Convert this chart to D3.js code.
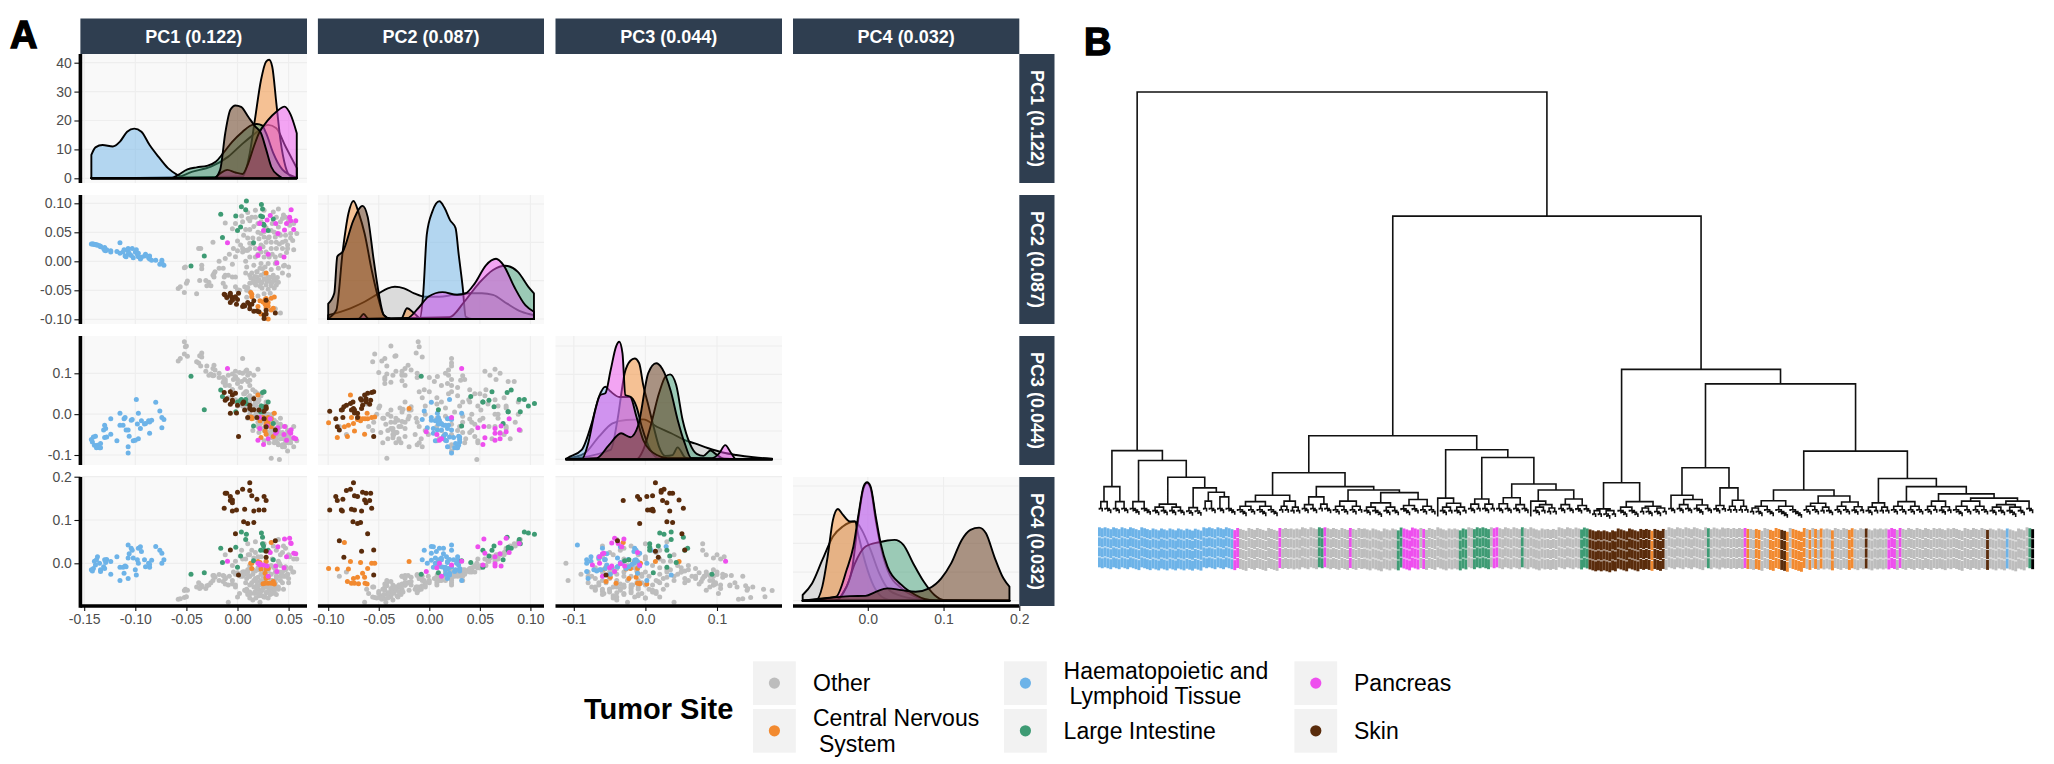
<!DOCTYPE html>
<html><head><meta charset="utf-8">
<script src="https://cdn.jsdelivr.net/npm/d3@7"></script>
<style>html,body{margin:0;background:#fff}svg{display:block}text{font-family:"Liberation Sans",Arial,sans-serif}</style>
</head><body><svg id="c" width="2054" height="764"></svg>
<script>
const pcLabels=["PC1 (0.122)","PC2 (0.087)","PC3 (0.044)","PC4 (0.032)"];
const sites=["Other","Central Nervous\n System","Haematopoietic and\n Lymphoid Tissue","Large Intestine","Pancreas","Skin"];
const siteColors=["#bdbdbd","#f28a30","#6db3e8","#3e9b74","#ee4fee","#5a2c0c"];
const ticksPC1=[-.15,-.1,-.05,0,.05],ticksPC2=[-.1,-.05,0,.05,.1],ticksPC3=[-.1,0,.1],ticksPC4=[0,.1,.2];
const ticksDensity=[0,10,20,30,40];

// samples: [PC1, PC2, PC3, PC4]
const other=[
[-.058,-.047,.130,-.083],[-.056,-.044,.136,-.082],[-.052,-.054,.147,-.079],[-.050,-.038,.167,-.077],[-.049,-.034,.142,-.062],[-.040,-.056,.128,-.055],[-.052,-.011,.177,-.063],[-.051,-.010,.165,-.06],[-.038,.022,.125,-.045],[-.036,.022,.118,-.05],[-.035,-.007,.140,-.052],[-.035,-.013,.150,-.055],[-.037,-.033,.143,-.058],[-.031,-.033,.105,-.058],[-.030,-.042,.118,-.052],[-.026,-.042,.098,-.045],[-.028,-.036,.095,-.05],[-.024,-.024,.112,-.028],[-.023,-.021,.120,-.028],[-.022,-.018,.108,-.032],[-.023,-.027,.095,-.03],[-.018,-.012,.100,-.026],[-.014,-.012,.090,-.028],[-.024,.033,.094,-.04],[-.012,.066,.085,.02],[-.013,-.027,.082,-.03],[-.012,-.024,.070,-.035],[-.009,-.024,.095,-.05],[-.005,-.027,.098,-.048],[-.002,-.027,.105,-.05],[-.014,-.038,.078,-.042],[-.012,-.044,.075,-.048],[-.002,-.044,.09,-.055],[.002,-.050,.102,-.07],[.007,-.044,.085,-.062],[-.004,.022,.085,-.02],[-.002,.008,.092,-.025],[.005,.016,.1,-.02],[.009,.019,.108,-.025],[.01,.019,.095,-.015],
[.012,-.024,.03,-.05],[.016,-.033,-.01,-.055],[.019,-.027,.005,-.06],[.023,-.024,-.02,-.05],[.026,-.021,-.012,-.045],[.028,-.030,-.03,-.055],[.030,-.027,-.018,-.05],[.035,-.024,-.035,-.048],[.037,-.033,-.045,-.055],[.040,-.036,-.05,-.06],[.012,-.038,.01,-.066],[.017,-.038,-.005,-.07],[.023,-.038,-.02,-.064],[.028,-.041,-.04,-.068],[.033,-.038,-.035,-.058],[.038,-.041,-.06,-.072],[.05,-.024,-.055,-.045],[.009,-.050,.015,-.065],[0,-.049,.02,-.078],[-.009,-.064,.04,-.09],[.009,-.062,.025,-.06],[.026,-.056,-.04,-.078],[.042,-.089,-.03,-.03],[.037,-.082,-.05,-.02],[.046,-.007,-.08,-.03],[.038,-.001,-.05,-.03],[.033,-.042,-.108,-.04],[.041,.047,-.111,0],
[.020,-.034,-.02,-.058],[.024,-.036,-.035,-.062],[.029,-.035,-.05,-.066],[.034,-.036,-.058,-.07],[.021,-.032,-.045,-.075],[.031,-.033,-.07,-.062],[.015,-.036,-.04,-.085],[.026,-.030,-.065,-.05],[.018,-.041,0,-.08],[.013,-.029,.015,-.07],[.022,-.043,-.025,-.09],[.027,-.031,-.015,-.078],[.032,-.028,-.03,-.072],[.036,-.030,-.06,-.065],[.039,-.028,-.07,-.055],[.010,-.045,-.01,-.072],[.008,-.02,.01,-.062],[.014,-.02,-.005,-.045],[.019,-.018,.018,-.042],
[.0175,.088,.03,.05],[-.002,.065,.035,.005],[.005,.068,.02,.01],[.0105,.074,.04,.02],[.014,.076,.02,.03],[.0175,.076,.015,.025],[.023,.068,0,.015],[.026,.088,0,.045],[.035,.085,-.02,.04],[.038,.076,-.035,.03],[.044,.074,-.05,.025],[.047,.076,-.03,.035],[.051,.062,-.06,.015],[.04,.059,-.03,.005],[.033,.053,-.01,-.005],[.026,.051,.01,-.005],[.023,.048,.02,-.01],[.021,.039,.035,-.015],[.026,.042,0,-.02],[.031,.042,-.02,-.01],[.037,.042,-.04,-.012],[.042,.045,-.025,-.005],[.047,.045,-.055,-.008],[.052,.048,-.07,-.01],[.058,.048,-.065,.01],[.054,.036,-.06,-.02],[.049,.028,-.04,-.025],[.044,.033,-.045,-.02],[.038,.033,-.02,-.03],[.033,.033,-.005,-.025],[.028,.033,.03,-.015],[.023,.028,.045,-.025],[.0175,.022,.055,-.018],[.012,.022,.07,-.012],[.007,.019,.05,-.02],[.012,.0075,.04,-.03],[.0175,.0075,.025,-.035],[.023,.016,.015,-.04],[.028,.016,-.005,-.03],[.033,.022,-.025,-.04],[.038,.022,-.05,-.035],[.044,.022,-.075,-.03],[.049,.022,-.09,-.025],[.037,.0075,-.065,-.045],[.031,.0075,-.03,-.05],[.026,.0075,-.01,-.04],[.009,-.01,.055,-.035],[.016,-.007,.04,-.04],[.023,-.004,.02,-.045],[.03,-.004,0,-.05],[.037,-.004,-.04,-.055],[.045,-.008,-.06,-.06],[.019,-.018,.01,-.05],[.0245,-.013,-.01,-.06],[-.005,.056,.06,-.005],
[.005,.022,.136,-.03],[.012,.031,.083,-.03],[.012,.07,.1,.02],[.016,.06,.095,.012],[.008,.055,.105,.01],[.02,.065,.11,.015],[.004,.078,.08,.03],[.01,.084,.08,.045],[-.018,0,.09,-.04],[-.012,.005,.08,-.035],[-.008,.012,.07,-.03],[0,.018,.075,-.022],[-.005,-.005,.06,-.04],[.003,.028,.065,-.03],[.008,0,.055,-.045],[.015,.04,.06,-.015],[.02,.05,.05,-.01],[0,.035,.085,-.025],[.006,.045,.05,-.02],[.012,.055,.045,-.005],
[.042,.068,-.01,.02],[.05,.07,-.045,.02],[.055,.065,-.03,.01],[.045,.08,-.06,.04],[.04,.09,-.04,.055],[.034,.065,0,.01],[.028,.058,.025,.005],[.036,.05,-.015,-.01],[.041,.03,-.03,-.02],[.047,.035,-.07,-.015],[.052,.04,-.045,-.012],[.03,.04,-.012,-.018],[.025,.025,.005,-.03],[.034,.012,-.04,-.04],[.042,.01,-.06,-.04],[.048,.015,-.05,-.03],[.02,.012,.03,-.032],[.015,.03,.02,-.025],[.01,.04,.03,-.02],[.027,-.01,-.03,-.055],[.033,-.014,-.05,-.06],[.04,-.012,-.075,-.055],[.022,-.012,-.02,-.068],[.017,-.026,.012,-.066],[.024,-.046,-.01,-.075],[.03,-.048,-.045,-.08],[.036,-.046,-.07,-.06],[.012,-.052,0,-.08],[.02,-.06,-.03,-.07],[.032,-.055,-.02,-.055],[.044,-.02,-.08,-.045],[.05,-.01,-.07,-.035],[.055,.02,-.08,-.02]];
const cns=[[.03,-.0996,-.021,-.012],[.023,-.091,-.057,-.013],[.033,-.084,-.031,.048],[.035,-.081,-.055,-.042],[.028,-.08,-.027,-.013],[.02,-.078,.047,.004],[.03,-.077,-.008,-.046],[.028,-.075,-.023,-.035],[.027,-.074,-.041,-.046],[.03,-.071,-.013,-.032],[.025,-.07,-.008,-.047],[.022,-.068,-.016,.002],[.027,-.066,-.011,-.023],[.028,-.064,-.049,-.032],[.033,-.0636,-.011,-.046],[.036,-.0615,.002,-.048],[.014,-.061,-.011,-.012],[.014,-.057,-.008,0],[.013,-.054,-.007,0],[.028,-.020,.014,.004]];
const heme=[[-.143,.03,-.062,-.015],[-.141,.03,-.056,-.012],[-.139,.029,-.054,-.004],[-.142,.03,-.068,-.018],[-.14,.029,-.076,.005],[-.137,.028,-.076,.015],[-.138,.028,-.082,.008],[-.135,.027,-.082,0],[-.134,.025,-.082,-.019],[-.134,.026,-.072,-.015],[-.13,.024,-.057,.008],[-.128,.02,-.056,.009],[-.131,.022,-.039,-.008],[-.129,.018,-.035,.002],[-.13,.019,-.027,-.012],[-.124,.018,-.011,.004],[-.124,.016,-.049,-.025],[-.118,.017,-.065,.015],[-.115,.032,.002,-.04],[-.115,.014,-.027,-.009],[-.112,.016,-.027,-.009],[-.111,.02,-.011,-.023],[-.11,.009,-.008,-.006],[-.109,.008,-.039,-.008],[-.107,.018,-.08,-.035],[-.107,.012,-.039,.012],[-.107,.022,-.095,.042],[-.106,.014,-.054,.022],[-.104,.01,-.015,.035],[-.103,.022,-.013,.03],[-.102,.006,-.065,.012],[-.1,.016,-.064,-.015],[-.099,.02,.036,-.027],[-.097,.008,.002,0],[-.098,.012,-.024,.008],[-.097,.014,-.06,.035],[-.095,.004,-.035,.038],[-.094,.007,-.016,.027],[-.091,.009,-.024,.008],[-.09,.012,-.023,-.008],[-.087,.006,-.016,0],[-.086,.004,-.047,-.009],[-.086,.009,-.019,-.003],[-.084,.002,-.015,.007],[-.08,.002,.029,.039],[-.076,-.005,.008,.03],[-.074,.002,-.008,.023],[-.072,-.007,-.013,.008],[-.074,-.002,-.033,0]];
const intestine=[[-.0455,-.008,.093,-.025],[-.0325,.009,.011,-.022],[-.0147,.041,.043,.002],[-.0164,.081,.059,.035],[-.0017,.078,.006,.037],[.0038,.094,.036,.072],[.0087,.104,.026,.067],[.008,.089,.036,.055],[.0234,.098,.02,.07],[.0245,.09,.006,.045],[.0245,.077,.053,.06],[.0255,.064,.018,.04],[.0157,.032,-.029,.006],[0,.053,.03,-.009],[.003,.059,.034,.017],[.0227,.078,.006,.03],[.035,.073,-.023,.008],[.026,.062,.055,.03],[.03,.053,.03,.03]];
const pancreas=[[-.0098,.032,.112,.005],[.0217,.065,-.035,-.001],[.032,.079,-.011,.025],[.0374,.065,-.047,-.006],[.029,.071,-.029,-.006],[.0255,.053,-.074,-.004],[.0217,.022,-.008,-.004],[.02,.01,-.064,0],[.03,.012,-.06,-.03],[.0385,-.003,-.043,-.019],[.0395,.048,-.033,.038],[.046,.054,-.03,.056],[.048,.065,-.064,.015],[.055,.055,-.058,.023],[.057,.07,-.06,.022],[.052,.07,-.047,.047],[.051,.076,-.043,.058],[.0525,.089,-.038,.046],[.0455,.0075,-.05,-.01]];
const skin=[[.012,-.075,.014,.186],[.012,-.082,.022,.168],[.005,-.078,.026,.171],[.014,-.074,.01,.156],[0,-.066,.022,.164],[-.012,-.058,.034,.162],[-.0105,-.0625,.038,.162],[.026,-.0925,-.011,.154],[.028,-.091,-.031,.145],[.019,-.0855,-.008,.148],[-.007,-.071,.002,.154],[-.005,-.064,.047,.146],[-.005,-.0625,.03,.14],[-.013,-.057,.053,.127],[.026,-.0985,.007,.123],[.021,-.087,.01,.123],[.016,-.086,.011,.121],[.007,-.077,.01,.125],[-.001,-.074,.003,.123],[-.005,-.067,.034,.121],[-.007,-.059,.024,.145],[.006,-.0755,.03,.096],[.01,-.071,-.008,.092],[.016,-.068,.038,.094],[-.002,-.061,.051,.068],[.037,-.089,-.039,.052],[.028,-.067,.014,.028],[-.007,-.055,.055,.031],[.028,-.0845,.018,.014],[.001,-.055,-.055,-.027]];

// densities: [value, density]
const densPC1Other=[[-.062,.2],[-.044,2.3],[-.026,4],[-.009,7.5],[.005,12],[.019,16],[.030,18.5],[.038,17.3],[.047,11],[.058,3.5]];
const densPC1Cns=[[.005,.6],[.012,8.7],[.017,20.2],[.023,34],[.028,40.4],[.031,41],[.034,38.6],[.038,26],[.042,13.3],[.047,4],[.052,.6]];
const densPC1Heme=[[-.143,8.1],[-.139,10.7],[-.132,11.5],[-.122,11],[-.115,12.7],[-.108,16.1],[-.101,17.2],[-.094,16.1],[-.086,11.5],[-.077,7.3],[-.068,3.5],[-.059,1.2],[-.051,0]];
const densPC1Intestine=[[-.065,0],[-.058,1.2],[-.049,3.1],[-.04,3.8],[-.03,4.3],[-.021,5.8],[-.014,8.7],[-.005,12.7],[.005,16.1],[.012,18.1],[.019,18.8],[.024,18.3],[.028,15.6],[.035,8.7],[.044,3],[.051,1.2],[.058,.2]];
const densPC1Pancreas=[[-.023,0],[-.017,1.7],[-.01,2.9],[-.002,2],[.005,1.5],[.0105,5.2],[.016,11],[.021,15.6],[.03,20.2],[.038,23],[.046,24.8],[.052,22],[.058,15.6]];
const densPC1Skin=[[-.023,0],[-.017,2.9],[-.012,15.6],[-.007,23.7],[-.002,25.2],[.0035,24.7],[.0105,21.3],[.0175,17.9],[.023,15.6],[.028,10],[.033,4],[.04,1],[.0455,0]];

const densPC2Other=[[-.1,1],[-.078,2.8],[-.064,4.5],[-.05,6.7],[-.041,8],[-.034,8.4],[-.025,8],[-.015,6.7],[-.004,5.8],[.01,5.8],[.024,6.3],[.042,6.7],[.052,6.7],[.063,6.3],[.077,4],[.091,1.9],[.1035,1]];
const densPC2Cns=[[-.1,.2],[-.092,2.3],[-.0855,18],[-.08,27.5],[-.075,30.8],[-.0696,27.5],[-.064,22.3],[-.057,12.8],[-.05,5],[-.045,1],[-.038,0],[-.028,0],[-.022,2.8],[-.015,1.5],[-.008,0]];
const densPC2Heme=[[-.0095,0],[-.006,6.7],[-.0025,22],[.003,28],[.01,30.7],[.015,29],[.0205,25.8],[.026,23.7],[.029,17],[.033,8.4],[.036,.6],[.042,0]];
const densPC2Intestine=[[.02,.5],[.0346,4.5],[.049,9.3],[.063,12.8],[.075,13.9],[.0876,12.3],[.098,8.4],[.1035,6.7]];
const densPC2Pancreas=[[-.07,0],[-.065,1.3],[-.06,0],[-.022,.2],[-.011,2.8],[-.001,5.8],[.013,7],[.0275,6.3],[.036,6.7],[.045,9.3],[.056,14],[.066,15.7],[.0735,14],[.084,8.4],[.095,3.6],[.1035,1.9]];
const densPC2Skin=[[-.1,4],[-.094,6.7],[-.091,16.3],[-.0855,17.6],[-.075,25.8],[-.066,29.5],[-.061,26.7],[-.055,15.4],[-.05,6.7],[-.045,1],[-.038,0]];

const densPC3Other=[[-.111,.2],[-.085,2.1],[-.065,8],[-.046,12.7],[-.027,13.9],[-.003,14.1],[.016,11.5],[.036,9.2],[.055,6.8],[.069,5.6],[.088,3.9],[.108,2.4],[.127,1.5],[.151,.7],[.177,.2]];
const densPC3Cns=[[-.0485,3.3],[-.039,13.9],[-.029,30.4],[-.021,34.8],[-.015,35.6],[-.0087,33.9],[-.003,26.2],[.004,19.2],[.0115,11.5],[.019,4.5],[.028,1.2],[.038,1.5],[.045,4.2],[.055,.7],[.062,0]];
const densPC3Heme=[[-.109,.4],[-.089,3.3],[-.075,12.7],[-.065,22],[-.056,25.6],[-.0485,23.9],[-.0365,22],[-.021,22],[-.0125,18.6],[-.005,11.5],[.007,3.3],[.019,.4]];
const densPC3Intestine=[[-.0125,0],[-.003,3.3],[.007,11.5],[.019,23.3],[.028,29.2],[.0346,30],[.043,26.2],[.052,13.9],[.062,5.6],[.0716,1.9],[.081,1.2],[.091,3.1],[.098,1.9],[.11,.2]];
const densPC3Pancreas=[[-.089,0],[-.08,5.6],[-.07,17.4],[-.063,22.7],[-.056,23.3],[-.0485,31.5],[-.041,39.8],[-.0365,41.5],[-.032,37.4],[-.028,22.7],[-.021,22.1],[-.0125,15],[-.003,6.8],[.016,1.5],[.031,.4],[.093,.4],[.103,2.1],[.1115,5],[.12,2.1],[.127,0]];
const densPC3Skin=[[-.068,.4],[-.051,5],[-.034,9.2],[-.021,7.8],[-.01,12],[.004,30.4],[.015,33.9],[.0235,32],[.0355,24],[.045,14],[.055,5.6],[.064,.4]];

const densPC4Other=[[-.086,2],[-.0736,6],[-.06,14.2],[-.046,22.4],[-.033,25.9],[-.017,27.6],[-.008,24.7],[.0036,17.7],[.015,9.6],[.026,4.3],[.04,2],[.067,.5],[.107,.1]];
const densPC4Cns=[[-.069,0],[-.06,5],[-.053,15.4],[-.046,28.2],[-.0395,32],[-.033,30],[-.0236,27.6],[-.017,27.6],[-.012,22.4],[-.003,13],[.008,5],[.022,.8],[.035,0]];
const densPC4Heme=[[-.044,0],[-.033,2.6],[-.021,10.7],[-.012,29.4],[-.0055,39.3],[-.001,41],[.0036,39.3],[.0105,28],[.017,18.9],[.026,10.7],[.0445,4.3],[.063,1.4],[.081,0]];
const densPC4Intestine=[[-.042,0],[-.028,4.9],[-.017,13],[-.003,18.9],[.015,20.4],[.026,21],[.0355,21.2],[.047,19.5],[.06,13],[.074,6.6],[.088,2],[.101,.2]];
const densPC4Pancreas=[[-.042,1.4],[-.028,10.7],[-.019,18.9],[-.012,30.5],[-.0055,39.9],[-.001,41.3],[.0036,39.9],[.0105,29.4],[.017,20],[.026,11.9],[.0445,5.5],[.063,2],[.076,.5],[.09,0]];
const densPC4Skin=[[-.042,1.2],[-.0236,1.6],[-.003,1.7],[.0105,3.1],[.026,4.3],[.0445,3.7],[.063,3.1],[.081,4.3],[.097,7.8],[.11,13],[.124,21.2],[.1355,24.7],[.147,25.5],[.156,23.5],[.167,15.4],[.179,7.8],[.187,4.9]];

// clustering: [merge height, left, right]; a bare number is a small twig of that many samples (1 = a lone sample)
const treeA=[16.2,[7.8,[4.3,2,3],[4.3,3,3]],[13.9,[4.3,4,4],[10,[3.7,[3,3,3],[3,3,3]],[7.5,[2.9,3,3],[6.5,[4.4,2,3],[5.4,3,4]]]]]];
const treeL1=[11.05,[5.8,[4.3,[3.2,4,3],[3.2,4,4]],[4.4,[3.2,2,2],[3,2,2]]],[7.8,[5.4,[3.6,3,3],[3.7,2,3]],[7,[4.4,[3.2,3,3],[3.2,3,2]],[6.4,[4,[3,3,4],[3,3,3]],[4.8,[3.4,4,3],[3.2,3,3]]]]]];
const treeL2=[16.4,[5.1,1,[3.9,[3,3,2],[3,3,2]]],[14.6,[4.9,[3.7,3,2],[3.7,3,2]],[8.4,[5.2,[3.8,3,3],[3.6,3,3]],[7,[4.4,1,[3.6,[3,3,2],[2.8,2,2]]],[4.9,[3.6,3,3],[3.4,3,3]]]]]];
const treeC=[8.7,[2.6,[2.2,2,2],[2.2,3,2]],[4.3,[3,4,4],[3.2,[2.8,2,3],[2.8,3,2]]]];
const treeR=[12.2,[5.8,3,[4.8,[3.6,3,3],[3.5,4,3]]],[7.5,[3.4,3,2],[4.6,[3.2,2,2],[3.2,2,2]]]];
const treeS=[16.1,[7,[4.5,[3.2,[2.8,2,3],4],[3.2,5,5]],[5.6,[3.9,[3.2,3,3],[3,2,3]],[4.2,[3.2,3,3],[3.1,3,2]]]],[9.7,[4,[3,3,2],[3,2,2]],[7.8,[4.3,[3.2,3,3],[3.2,3,3]],[6.1,[4.4,[3.2,3,2],[3.1,3,2]],[5.1,[4.4,[3.2,4,3],[3.2,3,3]],[4.4,[3.6,[3,3,3],[3,4,3]],3]]]]]];
const treeRoot=[100,treeA,[71,[19.7,treeL1,treeL2],[35.2,treeC,[31.8,treeR,treeS]]]];
// site of each dendrogram leaf, left to right
const leafSiteRuns=[[2,48],[4,2],[0,14],[4,1],[0,13],[3,2],[4,1],[0,8],[4,1],[0,16],[3,2],[4,6],[0,1],[4,1],[0,12],[3,3],[0,2],[3,6],[0,1],[4,2],[0,8],[3,1],[0,20],[3,3],[5,22],[1,1],[5,4],[0,15],[3,1],[0,12],[4,1],[1,1],[0,2],[1,2],[0,3],[1,4],[5,2],[1,1],[0,1],[1,5],[0,1],[1,1],[0,1],[1,1],[0,1],[1,1],[0,3],[1,1],[0,5],[1,2],[0,4],[5,1],[0,7],[4,3],[0,1],[4,1],[0,30],[5,1],[0,6],[2,1],[0,7],[3,1]];

const svg=d3.select("#c");
const font='"Liberation Sans",Arial,sans-serif';
const samples=[other,cns,heme,intestine,pancreas,skin];
const dens=[
 [densPC1Other,densPC1Cns,densPC1Heme,densPC1Intestine,densPC1Pancreas,densPC1Skin],
 [densPC2Other,densPC2Cns,densPC2Heme,densPC2Intestine,densPC2Pancreas,densPC2Skin],
 [densPC3Other,densPC3Cns,densPC3Heme,densPC3Intestine,densPC3Pancreas,densPC3Skin],
 [densPC4Other,densPC4Cns,densPC4Heme,densPC4Intestine,densPC4Pancreas,densPC4Skin]];

const colX=[[80.4,307],[317.9,544],[555.5,782],[793,1019.3]];
const rowY=[[54,183],[195,324],[336,465],[477,606]];
const xS=[
 d3.scaleLinear().domain([0,.05]).range([237.5,288.6]),
 d3.scaleLinear().domain([0,.1]).range([429.3,530.4]),
 d3.scaleLinear().domain([0,.1]).range([645.4,717]),
 d3.scaleLinear().domain([0,.2]).range([867.8,1019.3])];
const yS=[null,
 d3.scaleLinear().domain([-.1,.1]).range([319.3,203.3]),
 d3.scaleLinear().domain([-.1,.1]).range([455,373.3]),
 d3.scaleLinear().domain([0,.2]).range([563.3,476.7])];
const dS=[
 d3.scaleLinear().domain([0,40]).range([178.3,62.7]),
 d3.scaleLinear().domain([0,30]).range([319,204]),
 d3.scaleLinear().domain([0,40]).range([459.3,346]),
 d3.scaleLinear().domain([0,40]).range([600.7,486])];
const xTicks=[ticksPC1,ticksPC2,ticksPC3,ticksPC4];
const xFmt=[".2f",".2f",".1f",".1f"];
const yTicks=[ticksDensity,ticksPC2,ticksPC3,ticksPC4];
const yFmt=["d",".2f",".1f",".1f"];
const fmt=f=>d=>d3.format(f)(d).replace("\u2212","-");
const strip="#2f3e50",grid="#eeeeee",bg="#f9f9f9";

const panels=svg.append("g");
for(let r=0;r<4;r++)for(let c=0;c<=r;c++){
  const g=panels.append("g");
  const [x0,x1]=colX[c],[y0,y1]=rowY[r];
  g.append("rect").attr("x",x0).attr("y",y0).attr("width",x1-x0).attr("height",y1-y0).attr("fill",bg);
  const gy=r===c?dS[r]:yS[r], gyT=r===c?(r===1?[0,10,20,30]:ticksDensity):yTicks[r];
  g.selectAll(".gv").data(xTicks[c].filter(v=>xS[c](v)>=x0&&xS[c](v)<=x1)).join("line")
   .attr("x1",d=>xS[c](d)).attr("x2",d=>xS[c](d)).attr("y1",y0).attr("y2",y1).attr("stroke",grid).attr("stroke-width",1.2);
  g.selectAll(".gh").data(gyT).join("line")
   .attr("y1",d=>gy(d)).attr("y2",d=>gy(d)).attr("x1",x0).attr("x2",x1).attr("stroke",grid).attr("stroke-width",1.2);
  if(r===c){
    const all=dens[c].flat().map(d=>d[0]);
    const ext=d3.extent(all);
    const line=d3.line().x(d=>xS[c](d[0])).y(d=>dS[r](d[1])).curve(d3.curveMonotoneX);
    dens[c].forEach((pts,s)=>{
      const p=pts.slice();
      if(p[0][0]>ext[0])p.unshift([ext[0],0]);
      if(p[p.length-1][0]<ext[1])p.push([ext[1],0]);
      const base=dS[r](0);
      g.append("path").attr("d",line(p)+`L${xS[c](ext[1])},${base}L${xS[c](ext[0])},${base}Z`)
       .attr("fill",siteColors[s]).attr("fill-opacity",.5).attr("stroke","#000").attr("stroke-width",1.9).attr("stroke-linejoin","round");
    });
  } else {
    samples.forEach((rows,s)=>{
      g.selectAll(null).data(rows).join("circle")
       .attr("cx",d=>xS[c](d[c])).attr("cy",d=>yS[r](d[r])).attr("r",2.5).attr("fill",siteColors[s]);
    });
  }
}
// axes
for(let r=0;r<4;r++){
  const s=r===0?dS[0]:yS[r];
  const ax=svg.append("g").attr("transform","translate(80.4,0)")
    .call(d3.axisLeft(s).tickValues(yTicks[r]).tickFormat(fmt(yFmt[r])).tickSize(6).tickPadding(2.5));
  ax.select(".domain").remove();
  ax.selectAll("line").attr("stroke","#111").attr("stroke-width",1.1);
  ax.selectAll("text").attr("font-size",14).attr("fill","#4d4d4d").style("font-family",font);
  svg.append("line").attr("x1",80.4).attr("x2",80.4).attr("y1",rowY[r][0]).attr("y2",rowY[r][1]+(r===3?1.8:0)).attr("stroke","#000").attr("stroke-width",3.6);
}
for(let c=0;c<4;c++){
  const ax=svg.append("g").attr("transform","translate(0,606)")
    .call(d3.axisBottom(xS[c]).tickValues(xTicks[c]).tickFormat(fmt(xFmt[c])).tickSize(5).tickPadding(3));
  ax.select(".domain").remove();
  ax.selectAll("line").attr("stroke","#111").attr("stroke-width",1.1);
  ax.selectAll("text").attr("font-size",14).attr("fill","#4d4d4d").style("font-family",font);
  svg.append("line").attr("x1",colX[c][0]).attr("x2",colX[c][1]).attr("y1",606).attr("y2",606).attr("stroke","#000").attr("stroke-width",3.6);
}
// strips
pcLabels.forEach((t,i)=>{
  svg.append("rect").attr("x",colX[i][0]).attr("y",18.5).attr("width",colX[i][1]-colX[i][0]).attr("height",35.5).attr("fill",strip);
  svg.append("text").attr("x",(colX[i][0]+colX[i][1])/2).attr("y",36.5).attr("dy",".36em").attr("text-anchor","middle")
    .attr("fill","#fff").attr("font-weight","bold").attr("font-size",18).text(t);
  svg.append("rect").attr("x",1019.3).attr("y",rowY[i][0]).attr("width",35.2).attr("height",rowY[i][1]-rowY[i][0]).attr("fill",strip);
  svg.append("text").attr("transform",`translate(1037,${(rowY[i][0]+rowY[i][1])/2}) rotate(90)`).attr("dy",".36em").attr("text-anchor","middle")
    .attr("fill","#fff").attr("font-weight","bold").attr("font-size",18).text(t);
});
// panel letters
[["A",10,48],["B",1084,55]].forEach(d=>svg.append("text").attr("x",d[1]).attr("y",d[2]).attr("font-size",38).attr("font-weight","bold")
  .attr("fill","#000").attr("stroke","#000").attr("stroke-width",1.4).text(d[0]));

// dendrogram
function expand(n,ph){
  if(typeof n==="number"){
    if(n===1)return {h:0.8,long:true};
    const top=Math.min(ph-.8,2.7);
    const twig=(k,h)=>k===1?{h:h-.3}:{h,children:[{h:h-.3},twig(k-1,h-.4)]};
    return twig(n,top);
  }
  return {h:n[0],children:[expand(n[1],n[0]),expand(n[2],n[0])]};
}
const root=d3.hierarchy(expand(treeRoot,100));
const leaves=root.leaves();
const dy=d3.scaleLinear().domain([0,100]).range([520,92]);
const leafX=d3.scaleBand().domain(d3.range(leaves.length)).range([1098,2034]);
leaves.forEach((l,i)=>l.x=leafX(i)+leafX.bandwidth()/2);
root.eachAfter(n=>{if(n.children)n.x=(n.children[0].x+n.children[1].x)/2;});
const pd=root.descendants().filter(n=>n.children).map(n=>{
  const [a,b]=n.children,y=dy(n.data.h);
  return `M${a.x},${dy(a.data.h)}V${y}H${b.x}V${dy(b.data.h)}`;
}).join("");
svg.append("path").attr("d",pd).attr("fill","none").attr("stroke","#111").attr("stroke-width",1.6);
// leaf labels (illegible sample names shown as coloured blocks)
const leafSites=leafSiteRuns.flatMap(([s,n])=>d3.range(n).map(()=>s));
const blockStarts=[0,10,20,30],blockLen=[9.2,9.2,9.2,10];
const labels=svg.append("g");
leaves.forEach((l,i)=>{
  const ly=l.data.long?dy(2.4):dy(l.data.h);
  const top=528+.55*(ly-511);
  blockStarts.forEach((b,k)=>{
    labels.append("rect").attr("x",l.x-leafX.bandwidth()/2).attr("y",top+b).attr("width",leafX.bandwidth()+.1).attr("height",blockLen[k])
      .attr("fill",siteColors[leafSites[i]]);
  });
});

// legend
const legX=[753,1004,1294.4],legY=[661.3,709],legKey=[[0,0],[0,1],[1,0],[1,1],[2,0],[2,1]];
const legText=[[813,813],[1063.6,1063.6],[1354,1354]];
svg.append("text").attr("x",584).attr("y",709).attr("dy",".36em").attr("font-weight","bold").attr("font-size",29).attr("fill","#000").text("Tumor Site");
sites.forEach((t,i)=>{
  const [c,r]=legKey[i];
  svg.append("rect").attr("x",legX[c]).attr("y",legY[r]).attr("width",42.8).attr("height",43.7).attr("fill","#f2f2f2");
  svg.append("circle").attr("cx",legX[c]+21.4).attr("cy",legY[r]+21.8).attr("r",5.6).attr("fill",siteColors[i]);
  const lines=t.split("\n");
  const cy=legY[r]+21.8;
  lines.forEach((ln,k)=>{
    const yy=lines.length===1?cy:cy+(k===0?-12.8:12.8);
    svg.append("text").attr("x",legText[c][r]+(ln.startsWith(" ")?6:0)).attr("y",yy).attr("dy",".36em")
      .attr("font-size",23).attr("fill","#000").text(ln.trim());
  });
});
</script></body></html>
